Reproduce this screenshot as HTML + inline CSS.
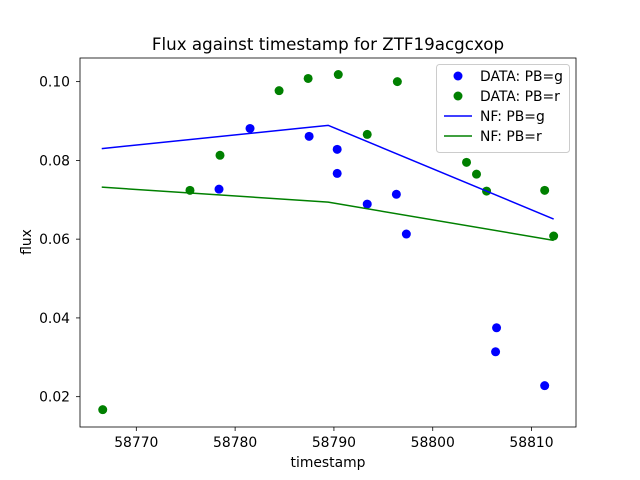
<!DOCTYPE html>
<html><head><meta charset="utf-8"><style>body{margin:0;background:#fff}svg{display:block;font-family:"DejaVu Sans","Liberation Sans",sans-serif}</style></head>
<body>
<svg id="chart" width="640" height="480"></svg>
<script>
const gT=[58778.37,58781.51,58787.49,58790.33,58790.33,58793.37,58796.32,58797.33,58806.46,58806.36,58811.33];
const gF=[0.0727,0.0881,0.0861,0.0828,0.0767,0.0689,0.0714,0.0613,0.0375,0.0314,0.0228];
const rT=[58766.60,58775.43,58778.47,58784.45,58787.39,58790.44,58793.37,58796.42,58803.42,58804.43,58805.45,58811.33,58812.24];
const rF=[0.0167,0.0724,0.0813,0.0977,0.1008,0.1018,0.0866,0.1000,0.0795,0.0765,0.0722,0.0724,0.0608];
const nfT=[58766.5,58789.42,58812.24];
const nfG=[0.0830,0.0889,0.0651];
const nfR=[0.0732,0.0694,0.0597];
const xTicks=[58770,58780,58790,58800,58810];
const yTicks=[0.02,0.04,0.06,0.08,0.10];
const L=80,R=576,T=58,B=427,x0=58764.3,x1=58814.5,y0=0.0123,y1=0.1060;
const X=v=>L+(v-x0)/(x1-x0)*(R-L), Y=v=>B-(v-y0)/(y1-y0)*(B-T);
const svg=document.getElementById('chart');const NS='http://www.w3.org/2000/svg';
function mk(t,a,txt){const e=document.createElementNS(NS,t);for(const k in a)e.setAttribute(k,a[k]);if(txt!==undefined)e.textContent=txt;svg.appendChild(e);return e;}
let e;
e=mk('text',{x:328,y:50,'text-anchor':'middle','font-size':16.7,fill:'#000'},'Flux against timestamp for ZTF19acgcxop');


xTicks.forEach(v=>{const px=X(v);mk('line',{x1:px,x2:px,y1:B,y2:B+4,stroke:'#000','stroke-width':0.8});
e=mk('text',{x:px,y:B+20,'text-anchor':'middle','font-size':13.9,fill:'#000'},String(v));

});
yTicks.forEach(v=>{const py=Y(v);mk('line',{x1:L-4,x2:L,y1:py,y2:py,stroke:'#000','stroke-width':0.8});
e=mk('text',{x:L-10,y:py+5,'text-anchor':'end','font-size':13.9,fill:'#000'},v.toFixed(2));

});
e=mk('text',{x:328,y:467,'text-anchor':'middle','font-size':13.9,fill:'#000'},'timestamp');


e=mk('text',{x:31,y:242,'text-anchor':'middle','font-size':13.9,fill:'#000',transform:'rotate(-90 31 242)'},'flux');


gT.forEach((t,i)=>{e=mk('circle',{cx:X(t),cy:Y(gF[i]),r:4.5,fill:'#0000ff'});

});
rT.forEach((t,i)=>{e=mk('circle',{cx:X(t),cy:Y(rF[i]),r:4.5,fill:'#008000'});

});
e=mk('polyline',{points:nfT.map((t,i)=>X(t)+','+Y(nfG[i])).join(' '),fill:'none',stroke:'#0000ff','stroke-width':1.5});


e=mk('polyline',{points:nfT.map((t,i)=>X(t)+','+Y(nfR[i])).join(' '),fill:'none',stroke:'#008000','stroke-width':1.5});


e=mk('rect',{x:L,y:T,width:R-L,height:B-T,fill:'none',stroke:'#000','stroke-width':0.8});


e=mk('rect',{x:436.5,y:64.5,width:133,height:88,rx:3,fill:'#fff','fill-opacity':0.8,stroke:'#ccc'});


const leg=[['DATA: PB=g','#0000ff',0],['DATA: PB=r','#008000',0],['NF: PB=g','#0000ff',1],['NF: PB=r','#008000',1]];
leg.forEach((l,i)=>{const cy=76+i*20;
if(l[2])mk('line',{x1:444,x2:472,y1:cy,y2:cy,stroke:l[1],'stroke-width':1.5});else mk('circle',{cx:458,cy:cy,r:4.5,fill:l[1]});
e=mk('text',{x:480,y:cy+5,'font-size':13.9,fill:'#000'},l[0]);

});
</script>
</body></html>
